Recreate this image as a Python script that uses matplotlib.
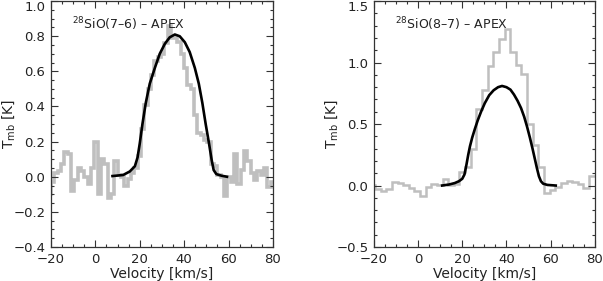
import numpy as np
import matplotlib
matplotlib.use("Agg")
import matplotlib.pyplot as plt
from matplotlib.ticker import MultipleLocator

# SiO(7-6) spectrum, 1.5 km/s channels
sio76_start, sio76_dv = -20.75, 1.5
sio76_tmb = [
    -0.10, -0.03, 0.02, 0.03, 0.07, 0.14, 0.13, -0.08, -0.02, 0.05,
    0.03, 0.00, -0.04, 0.05, 0.20, -0.10, 0.10, 0.07, -0.12, -0.10,
    0.09, 0.01, 0.00, -0.05, -0.01, 0.02, 0.05, 0.12, 0.27, 0.41,
    0.50, 0.58, 0.66, 0.68, 0.70, 0.76, 0.86, 0.79, 0.79, 0.77,
    0.70, 0.62, 0.52, 0.50, 0.35, 0.25, 0.24, 0.21, 0.20, 0.075,
    0.06, 0.01, 0.00, -0.11, 0.00, -0.03, 0.13, -0.04, 0.04, 0.145,
    0.09, 0.02, -0.02, 0.03, 0.01, 0.05, -0.06, -0.03, -0.03,
]
# model curve
fit76_v = [7.7, 12.5, 15.5, 17.8, 19.0, 20.0, 21.2, 22.7, 24.5, 26.8, 29.0,
           31.3, 33.5, 35.8, 38.0, 40.3, 42.5, 44.8, 46.6, 48.2, 49.7, 51.2,
           52.4, 53.3, 54.5, 56.8, 59.3]
fit76_t = [0.004, 0.01, 0.03, 0.06, 0.11, 0.19, 0.30, 0.42, 0.53, 0.62, 0.70,
           0.757, 0.794, 0.81, 0.80, 0.766, 0.71, 0.62, 0.53, 0.42, 0.30, 0.19,
           0.095, 0.038, 0.015, 0.006, 0.0]

# SiO(8-7) spectrum, 2.55 km/s channels
sio87_start, sio87_dv = -20.775, 2.55
sio87_tmb = [
    0.005, -0.03, -0.046, -0.027, 0.032, 0.024, 0.005, -0.022, -0.046, -0.087,
    -0.014, 0.016, 0.005, 0.054, 0.005, 0.01, 0.108, 0.15, 0.30, 0.62,
    0.78, 0.97, 1.09, 1.19, 1.27, 1.09, 0.98, 0.91, 0.50, 0.33,
    0.15, -0.06, -0.035, -0.01, 0.02, 0.04, 0.03, 0.014, -0.02, 0.08,
    0.08,
]
fit87_v = [10.9, 14.0, 16.6, 18.5, 20.0, 21.0, 21.9, 22.7, 23.5, 24.5, 25.7,
           27.0, 28.5, 30.2, 32.2, 34.2, 36.2, 38.0, 40.0, 41.8, 43.4, 45.0,
           46.6, 48.0, 49.3, 50.6, 51.8, 52.8, 53.8, 54.7, 55.6, 56.6, 58.5, 62.3]
fit87_t = [0.0, 0.008, 0.02, 0.035, 0.055, 0.09, 0.17, 0.25, 0.32, 0.39, 0.46,
           0.53, 0.60, 0.67, 0.735, 0.775, 0.80, 0.81, 0.80, 0.78, 0.74, 0.69,
           0.63, 0.56, 0.48, 0.39, 0.30, 0.22, 0.14, 0.075, 0.035, 0.015, 0.005, 0.0]

GREY = "#bfbfbf"
TXT = "#222222"


def edges(start, dv, n):
    centres = start + dv * np.arange(n)
    return np.append(centres - dv / 2, centres[-1] + dv / 2)


def style(ax, ylim, ymaj, ymin):
    ax.set_xlim(-20, 80)
    ax.set_ylim(*ylim)
    ax.xaxis.set_major_locator(MultipleLocator(20))
    ax.xaxis.set_minor_locator(MultipleLocator(5))
    ax.yaxis.set_major_locator(MultipleLocator(ymaj))
    ax.yaxis.set_minor_locator(MultipleLocator(ymin))
    ax.tick_params(which="both", direction="in", top=True, right=True,
                   colors="#333333", labelcolor=TXT, labelsize=9.5, width=0.8)
    ax.tick_params(which="major", length=5, pad=4)
    ax.tick_params(which="minor", length=2.5)
    for s in ax.spines.values():
        s.set_linewidth(0.9)
        s.set_color("#333333")
    ax.set_xlabel("Velocity [km/s]", fontsize=10, color=TXT, labelpad=1)
    ax.set_ylabel(r"T$_{\rm mb}$ [K]", fontsize=10, color=TXT, va="center")
    ax.yaxis.set_label_coords(-0.19, 0.5)


fig = plt.figure(figsize=(6.03, 2.81), dpi=100)
ax1 = fig.add_axes([0.0846, 0.121, 0.368, 0.875])
ax2 = fig.add_axes([0.620, 0.121, 0.3665, 0.875])

ax1.stairs(sio76_tmb, edges(sio76_start, sio76_dv, len(sio76_tmb)),
           color=GREY, lw=2.6)
ax1.plot(fit76_v, fit76_t, color="black", lw=1.9)
ax1.text(0.095, 0.905, r"$^{28}$SiO(7–6) – APEX", transform=ax1.transAxes,
         fontsize=9, color=TXT, va="center")

ax2.stairs(sio87_tmb, edges(sio87_start, sio87_dv, len(sio87_tmb)),
           color=GREY, lw=1.8)
ax2.plot(fit87_v, fit87_t, color="black", lw=1.9)
ax2.text(0.095, 0.905, r"$^{28}$SiO(8–7) – APEX", transform=ax2.transAxes,
         fontsize=9, color=TXT, va="center")

style(ax1, (-0.4, 1.0), 0.2, 0.05)
style(ax2, (-0.5, 1.5), 0.5, 0.1)

# the top y label sits just under the frame edge, as in the original
fig.canvas.draw()
for ax in (ax1, ax2):
    top = ax.get_ylim()[1]
    for tick in ax.yaxis.get_major_ticks():
        if abs(tick.get_loc() - top) < 1e-6:
            tick.label1.set_va("top")

fig.savefig("out.png", dpi=100)
